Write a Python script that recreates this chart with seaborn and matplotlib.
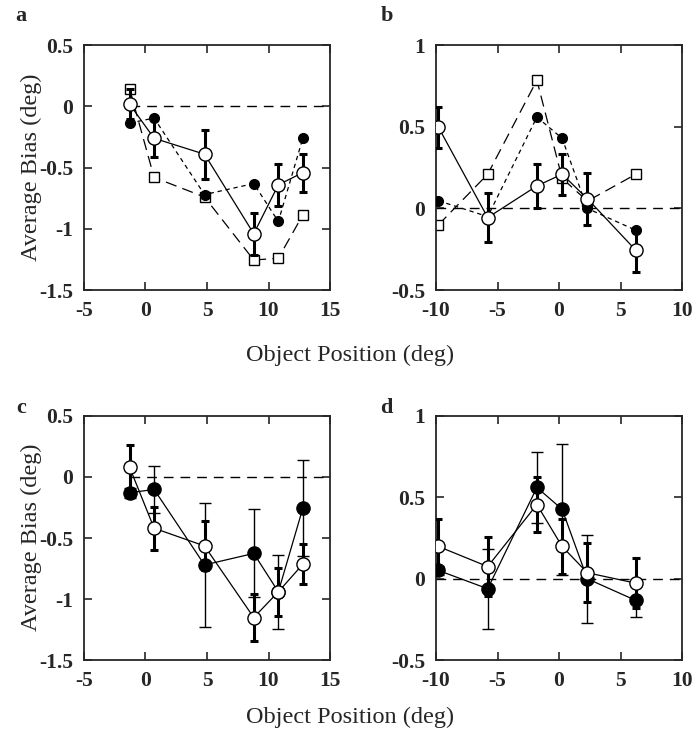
import matplotlib
matplotlib.use("Agg")
import matplotlib.pyplot as plt
import seaborn as sns
import pandas as pd

# object positions (deg)
pos_ac = [-1.3, 0.7, 4.8, 8.8, 10.8, 12.8]
pos_bd = [-9.8, -5.8, -1.8, 0.25, 2.3, 6.25]

# panel a
a_open = [0.02, -0.26, -0.39, -1.04, -0.64, -0.54]
a_open_err = [0.12, 0.15, 0.2, 0.17, 0.17, 0.155]
a_filled = [-0.135, -0.095, -0.72, -0.63, -0.94, -0.255]
a_square = [0.147, -0.58, -0.74, -1.255, -1.24, -0.885]

# panel b
b_open = [0.497, -0.056, 0.138, 0.21, 0.06, -0.257]
b_open_err = [0.125, 0.15, 0.135, 0.125, 0.16, 0.13]
b_filled = [0.047, -0.05, 0.56, 0.43, 0.0, -0.134]
b_square = [-0.1, 0.21, 0.786, 0.185, 0.045, 0.21]

# panel c
c_open = [0.08, -0.42, -0.565, -1.15, -0.94, -0.713]
c_open_err = [0.18, 0.175, 0.2, 0.19, 0.195, 0.16]
c_filled = [-0.13, -0.103, -0.72, -0.626, -0.94, -0.253]
c_filled_err = [0.04, 0.19, 0.51, 0.36, 0.30, 0.39]

# panel d
d_open = [0.198, 0.075, 0.455, 0.198, 0.037, -0.027]
d_open_err = [0.17, 0.18, 0.17, 0.17, 0.18, 0.155]
d_filled = [0.051, -0.061, 0.56, 0.426, 0.0, -0.133]
d_filled_err = [0.03, 0.245, 0.22, 0.4, 0.27, 0.1]

sns.set_style("ticks")
plt.rcParams["font.family"] = ["Liberation Serif", "DejaVu Serif"]
plt.rcParams["axes.unicode_minus"] = False

fig = plt.figure(figsize=(6.93, 7.37), dpi=100)
w, h = 0.355, 0.332
ax_a = fig.add_axes([0.1212, 0.6065, w, h])
ax_b = fig.add_axes([0.6292, 0.6065, w, h])
ax_c = fig.add_axes([0.1212, 0.1040, w, h])
ax_d = fig.add_axes([0.6292, 0.1040, w, h])


def series(ax, x, y, ls, marker, ms, face, z):
    df = pd.DataFrame({"x": x, "y": y})
    sns.lineplot(data=df, x="x", y="y", ax=ax, sort=False, estimator=None,
                 color="black", lw=0.9, linestyle=ls, marker=marker, markersize=ms,
                 markerfacecolor=face, markeredgecolor="black", markeredgewidth=1.0,
                 zorder=z)


def bars(ax, x, y, err, lw, cap, z):
    ax.errorbar(x, y, yerr=err, fmt="none", ecolor="black", elinewidth=lw,
                capsize=cap, capthick=lw, zorder=z)


def style(ax, xlim, ylim, xticks, yticks, ylabels):
    ax.set_xlim(*xlim)
    ax.set_ylim(*ylim)
    ax.set_xticks(xticks)
    ax.set_yticks(yticks)
    ax.set_yticklabels(ylabels)
    ax.set_xticklabels([str(t) for t in xticks])
    ax.tick_params(direction="in", length=6, width=1.2, top=True, right=True,
                   labeltop=False, labelright=False, labelsize=15.5, pad=8)
    for lab in ax.get_xticklabels() + ax.get_yticklabels():
        lab.set_fontweight("bold")
    for s in ax.spines.values():
        s.set_visible(True)
        s.set_linewidth(1.3)
    ax.set_xlabel("")
    ax.set_ylabel("")


short = (0, (3.5, 3))
long = (0, (9, 5))
ref = (0, (7, 5))

# panel a
ax_a.plot([pos_ac[0], 15], [0, 0], color="black", lw=1.0, linestyle=ref, zorder=1)
series(ax_a, pos_ac, a_square, long, "s", 7, "white", 2)
series(ax_a, pos_ac, a_filled, short, "o", 7, "black", 3)
bars(ax_a, pos_ac, a_open, a_open_err, 2.2, 3.2, 4)
series(ax_a, pos_ac, a_open, "-", "o", 9.5, "white", 5)
style(ax_a, (-5, 15), (-1.5, 0.5), [-5, 0, 5, 10, 15],
      [-1.5, -1, -0.5, 0, 0.5], ["-1.5", "-1", "-0.5", "0", "0.5"])

# panel b
ax_b.plot([-10, 10], [0, 0], color="black", lw=1.0, linestyle=ref, zorder=1)
series(ax_b, pos_bd, b_square, long, "s", 7, "white", 2)
series(ax_b, pos_bd, b_filled, short, "o", 7, "black", 3)
bars(ax_b, pos_bd, b_open, b_open_err, 2.2, 3.2, 4)
series(ax_b, pos_bd, b_open, "-", "o", 9.5, "white", 5)
style(ax_b, (-10, 10), (-0.5, 1), [-10, -5, 0, 5, 10],
      [-0.5, 0, 0.5, 1], ["-0.5", "0", "0.5", "1"])

# panel c
ax_c.plot([pos_ac[0], 15], [0, 0], color="black", lw=1.0, linestyle=ref, zorder=1)
bars(ax_c, pos_ac, c_filled, c_filled_err, 1.0, 4, 2)
series(ax_c, pos_ac, c_filled, "-", "o", 9.5, "black", 3)
bars(ax_c, pos_ac, c_open, c_open_err, 2.2, 3.2, 4)
series(ax_c, pos_ac, c_open, "-", "o", 9.5, "white", 5)
style(ax_c, (-5, 15), (-1.5, 0.5), [-5, 0, 5, 10, 15],
      [-1.5, -1, -0.5, 0, 0.5], ["-1.5", "-1", "-0.5", "0", "0.5"])

# panel d
ax_d.plot([-10, 10], [0, 0], color="black", lw=1.0, linestyle=ref, zorder=1)
bars(ax_d, pos_bd, d_filled, d_filled_err, 1.0, 4, 2)
series(ax_d, pos_bd, d_filled, "-", "o", 9.5, "black", 3)
bars(ax_d, pos_bd, d_open, d_open_err, 2.2, 3.2, 4)
series(ax_d, pos_bd, d_open, "-", "o", 9.5, "white", 5)
style(ax_d, (-10, 10), (-0.5, 1), [-10, -5, 0, 5, 10],
      [-0.5, 0, 0.5, 1], ["-0.5", "0", "0.5", "1"])

# panel letters
for lab, x, y in [("a", 0.030, 0.978), ("b", 0.558, 0.978),
                  ("c", 0.030, 0.447), ("d", 0.558, 0.447)]:
    fig.text(x, y, lab, fontsize=16, fontweight="bold", ha="center", va="center")

# axis labels
fig.text(0.505, 0.518, "Object Position (deg)", fontsize=17.5, ha="center", va="center")
fig.text(0.505, 0.026, "Object Position (deg)", fontsize=17.5, ha="center", va="center")
fig.text(0.045, 0.773, "Average Bias (deg)", fontsize=17.5, rotation=90, ha="center", va="center")
fig.text(0.045, 0.271, "Average Bias (deg)", fontsize=17.5, rotation=90, ha="center", va="center")

fig.savefig("out.png", dpi=100)
